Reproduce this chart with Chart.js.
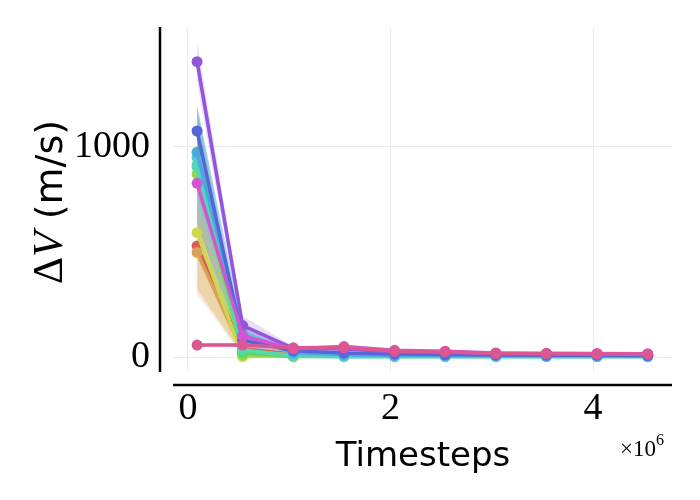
<!DOCTYPE html>
<html>
<head>
<meta charset="utf-8">
<script src="https://cdn.jsdelivr.net/npm/chart.js@4.4.0/dist/chart.umd.min.js"></script>
<style>
  html, body { margin: 0; padding: 0; background: #fff; }
  #wrap { width: 700px; height: 500px; position: relative; }
</style>
</head>
<body>
<div id="wrap"><canvas id="dvChart"></canvas></div>
<script>
// timesteps of each evaluation (in steps)
const timesteps = [0.09e6, 0.54e6, 1.04e6, 1.54e6, 2.04e6, 2.54e6, 3.04e6, 3.54e6, 4.04e6, 4.54e6];

// mean delta-V per run (m/s)
const redMean     = [529, 40, 14, 12, 10, 9, 8, 8, 8, 7];
const orangeMean  = [498, 25, 12, 10, 9, 8, 8, 7, 7, 7];
const yellowMean  = [592, 2, 8, 8, 7, 7, 6, 6, 6, 6];
const limeMean    = [871, 10, 4, 5, 5, 5, 5, 4, 4, 4];
const greenMean   = [914, 22, 3, 3, 3, 3, 3, 3, 3, 3];
const tealMean    = [905, 35, 5, 2, 2, 2, 2, 2, 2, 1];
const cyanMean    = [950, 120, 15, 8, 6, 5, 5, 4, 4, 4];
const azureMean   = [975, 105, 20, 12, 8, 7, 6, 6, 5, 5];
const indigoMean  = [1076, 80, 30, 20, 15, 12, 10, 9, 9, 8];
const purpleMean  = [1406, 150, 42, 38, 25, 22, 18, 16, 15, 14];
const magentaMean = [827, 100, 40, 50, 32, 28, 20, 18, 17, 16];
const pinkMean    = [57, 57, 44, 46, 28, 25, 17, 16, 15, 14];

// half-width of the shaded band per run
const redSpread     = [210, 25, 8, 5, 4, 3, 3, 3, 3, 2];
const orangeSpread  = [200, 18, 6, 4, 3, 3, 3, 2, 2, 2];
const yellowSpread  = [260, 4, 3, 2, 2, 2, 2, 2, 2, 2];
const limeSpread    = [300, 10, 3, 2, 2, 2, 2, 2, 2, 2];
const greenSpread   = [280, 15, 4, 3, 2, 2, 2, 2, 2, 2];
const tealSpread    = [270, 30, 5, 2, 2, 2, 2, 2, 2, 2];
const cyanSpread    = [250, 40, 8, 4, 3, 3, 3, 2, 2, 2];
const azureSpread   = [220, 45, 10, 6, 4, 4, 3, 3, 3, 3];
const indigoSpread  = [120, 40, 12, 8, 6, 5, 4, 4, 4, 4];
const purpleSpread  = [95, 45, 10, 8, 6, 5, 4, 4, 4, 4];
const magentaSpread = [200, 40, 10, 10, 6, 5, 4, 4, 4, 4];
const pinkSpread    = [8, 10, 6, 6, 5, 4, 3, 3, 3, 3];

const xTicks = [0, 2e6, 4e6];
const yTicks = [0, 1000];

const runs = [
  { mean: redMean, spread: redSpread, color: '#db5f57' },
  { mean: orangeMean, spread: orangeSpread, color: '#dba157' },
  { mean: yellowMean, spread: yellowSpread, color: '#cdd84f' },
  { mean: limeMean, spread: limeSpread, color: '#8ed64e' },
  { mean: greenMean, spread: greenSpread, color: '#5ed65e' },
  { mean: tealMean, spread: tealSpread, color: '#4fdcb0' },
  { mean: cyanMean, spread: cyanSpread, color: '#57c8db' },
  { mean: azureMean, spread: azureSpread, color: '#4fa8dc' },
  { mean: indigoMean, spread: indigoSpread, color: '#5567d8' },
  { mean: purpleMean, spread: purpleSpread, color: '#9156db' },
  { mean: magentaMean, spread: magentaSpread, color: '#d455d4' },
  { mean: pinkMean, spread: pinkSpread, color: '#db5791' },
];

function withAlpha(hex, a) {
  const n = parseInt(hex.slice(1), 16);
  return `rgba(${n >> 16},${(n >> 8) & 255},${n & 255},${a})`;
}

// Chart.js paints the first dataset last, so go through runs backwards
// to keep the last run (pink) on top like the original.
const drawOrder = runs.slice().reverse();
const datasets = [];
drawOrder.forEach(r => {
  datasets.push({
    data: timesteps.map((t, i) => ({ x: t, y: r.mean[i] })),
    borderColor: r.color, backgroundColor: r.color,
    borderWidth: 3.5, pointRadius: 5.5, pointBorderWidth: 0, fill: false, order: 1,
  });
});
drawOrder.forEach(r => {
  const lo = timesteps.map((t, i) => ({ x: t, y: r.mean[i] - r.spread[i] }));
  const hi = timesteps.map((t, i) => ({ x: t, y: r.mean[i] + r.spread[i] }));
  datasets.push({ data: lo, borderWidth: 0, pointRadius: 0, fill: false, order: 2 });
  datasets.push({ data: hi, borderWidth: 0, pointRadius: 0, fill: '-1',
    backgroundColor: withAlpha(r.color, 0.2), order: 2 });
});

const serif = '"Liberation Serif", "DejaVu Serif", serif';
const sans = '"DejaVu Sans", sans-serif';

const decorations = {
  id: 'decorations',
  afterDraw(chart) {
    const { ctx, chartArea: a } = chart;
    ctx.save();
    ctx.strokeStyle = '#000';
    ctx.lineWidth = 2.5;
    ctx.beginPath();
    ctx.moveTo(160, a.top); ctx.lineTo(160, a.bottom);
    ctx.moveTo(a.left, 385); ctx.lineTo(a.right, 385);
    ctx.stroke();

    ctx.fillStyle = '#000';
    // x title
    ctx.font = `34px ${sans}`;
    ctx.textAlign = 'center';
    ctx.textBaseline = 'alphabetic';
    ctx.fillText('Timesteps', 423, 466);

    // offset text
    ctx.textAlign = 'left';
    ctx.font = `23px ${serif}`;
    ctx.fillText('×10', 620, 456);
    const off = 620 + ctx.measureText('×10').width;
    ctx.font = `16px ${serif}`;
    ctx.fillText('6', off, 445);

    // y title
    ctx.translate(62, 202);
    ctx.rotate(-Math.PI / 2);
    const parts = [
      { t: 'Δ', f: `42px ${serif}` },
      { t: 'V', f: `italic 42px ${serif}` },
      { t: ' (m/s)', f: `38px ${sans}` },
    ];
    let w = 0;
    parts.forEach(p => { ctx.font = p.f; w += ctx.measureText(p.t).width; });
    let x = -w / 2;
    parts.forEach(p => { ctx.font = p.f; ctx.fillText(p.t, x, 0); x += ctx.measureText(p.t).width; });
    ctx.restore();
  }
};

new Chart(document.getElementById('dvChart'), {
  type: 'line',
  data: { datasets },
  options: {
    responsive: true,
    maintainAspectRatio: false,
    animation: false,
    layout: { padding: { top: 27, right: 28, left: 0, bottom: 0 } },
    plugins: { legend: { display: false }, tooltip: { enabled: false } },
    elements: { line: { tension: 0 } },
    scales: {
      x: {
        type: 'linear',
        min: -0.148e6,
        max: 4.78e6,
        afterFit: s => { s.height = 128; s.paddingLeft = 0; s.paddingRight = 0; },
        afterBuildTicks: s => { s.ticks = xTicks.map(v => ({ value: v })); },
        border: { display: false },
        grid: { color: '#ebebeb', lineWidth: 1, drawTicks: false },
        ticks: {
          padding: 14, color: '#000', maxRotation: 0,
          font: { family: serif, size: 38 },
          callback: v => String(v / 1e6),
        },
      },
      y: {
        min: -71,
        max: 1571,
        afterFit: s => { s.width = 173; s.paddingTop = 0; s.paddingBottom = 0; },
        afterBuildTicks: s => { s.ticks = yTicks.map(v => ({ value: v })); },
        border: { display: false },
        grid: { color: '#ebebeb', lineWidth: 1, drawTicks: false },
        ticks: {
          padding: 23, color: '#000',
          font: { family: serif, size: 38 },
          callback: v => String(v),
        },
      },
    },
  },
  plugins: [decorations],
});
</script>
</body>
</html>
